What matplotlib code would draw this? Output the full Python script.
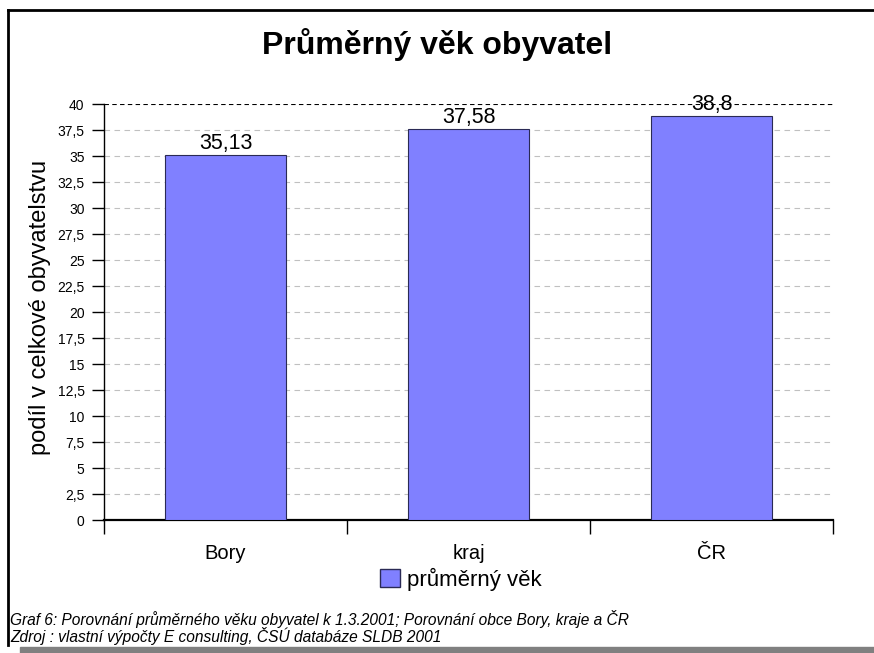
import matplotlib.pyplot as plt
from matplotlib.patches import Patch
from matplotlib.lines import Line2D
from matplotlib.patches import Rectangle

plt.rcParams['font.family'] = ['Liberation Sans', 'DejaVu Sans']

categories = ['Bory', 'kraj', 'ČR']
values = [35.13, 37.58, 38.8]
value_labels = ['35,13', '37,58', '38,8']
yticks = [0, 2.5, 5, 7.5, 10, 12.5, 15, 17.5, 20, 22.5, 25, 27.5, 30, 32.5, 35, 37.5, 40]
ytick_labels = ['0', '2,5', '5', '7,5', '10', '12,5', '15', '17,5', '20', '22,5', '25',
                '27,5', '30', '32,5', '35', '37,5', '40']

title = 'Průměrný věk obyvatel'
ylabel = 'podíl v celkové obyvatelstvu'
legend_label = 'průměrný věk'
caption = ['Graf 6: Porovnání průměrného věku obyvatel k 1.3.2001; Porovnání obce Bory, kraje a ČR',
           'Zdroj : vlastní výpočty E consulting, ČSÚ databáze SLDB 2001']

bar_color = '#8080ff'
edge_color = '#2a2a55'

fig = plt.figure(figsize=(8.74, 6.53), dpi=100)
ax = fig.add_axes([104/874, 1-520/653, (833-104)/874, (520-104)/653])

x = range(len(categories))
ax.bar(x, values, width=0.5, color=bar_color, edgecolor=edge_color, linewidth=0.8, zorder=3)
for xi, v, lab in zip(x, values, value_labels):
    ax.text(xi, v + 0.1, lab, ha='center', va='bottom', fontsize=15.5, zorder=4)

ax.set_xlim(-0.5, len(categories) - 0.5)
ax.set_ylim(0, 40)
ax.set_yticks(yticks)
ax.set_yticklabels(ytick_labels, fontsize=10)
ax.set_xticks(list(x))
ax.set_xticklabels(categories, fontsize=14.5)
ax.tick_params(axis='x', length=0, pad=17)
ax.tick_params(axis='y', length=9, width=1, pad=5)
# category separator ticks
ax.set_xticks([-0.5, 0.5, 1.5, 2.5], minor=True)
ax.tick_params(axis='x', which='minor', length=10, width=1, direction='out')

for t in yticks[1:-1]:
    ax.axhline(t, color='#c0c0c0', linestyle=(0, (5, 4)), linewidth=0.8, zorder=1)
ax.axhline(40, color='black', linestyle=(0, (4, 3)), linewidth=0.8, zorder=1)

for s in ['top', 'right']:
    ax.spines[s].set_visible(False)
ax.spines['left'].set_linewidth(1)
ax.spines['bottom'].set_linewidth(1.6)

ax.set_ylabel(ylabel, fontsize=17)
ax.yaxis.set_label_coords((51 - 104) / (833 - 104), 0.51)
fig.text(437/874, 1-45/653, title, ha='center', va='center', fontsize=23, fontweight='bold')

handle = Patch(facecolor=bar_color, edgecolor=edge_color, linewidth=1)
fig.legend([handle], [legend_label], loc='center', bbox_to_anchor=(461/874, 1-579/653),
           frameon=False, fontsize=16, handlelength=0.9, handleheight=0.9, handletextpad=0.3)

fig.text(10/874, 1-619/653, caption[0], ha='left', va='center', fontsize=11.2, style='italic')
fig.text(10/874, 1-636/653, caption[1], ha='left', va='center', fontsize=11.2, style='italic')

# outer frame and bottom bar
fig.add_artist(Line2D([8/874, 8/874], [1-645/653, 1-10/653], color='black', linewidth=2, transform=fig.transFigure))
fig.add_artist(Line2D([8/874, 1], [1-10/653, 1-10/653], color='black', linewidth=2, transform=fig.transFigure))
fig.add_artist(Rectangle((20/874, 0), 1 - 20/874, 6/653, color='#808080', transform=fig.transFigure))

fig.savefig('out.png', dpi=100)
